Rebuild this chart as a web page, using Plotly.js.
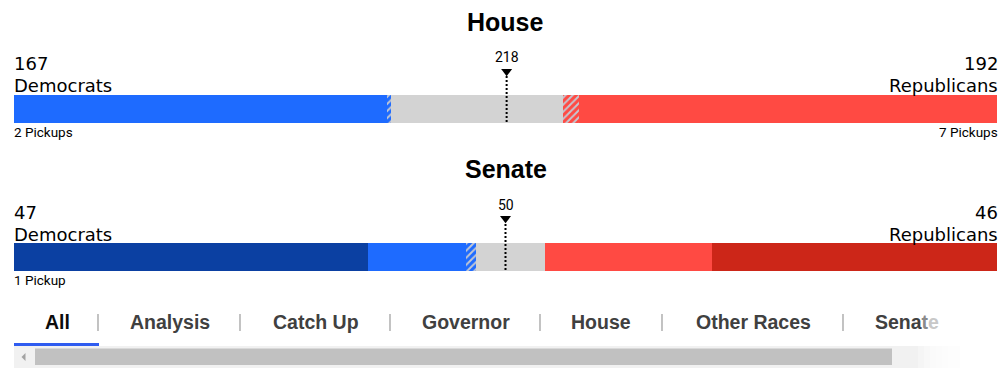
<!DOCTYPE html>
<html>
<head>
<meta charset="utf-8">
<script src="https://cdn.plot.ly/plotly-3.0.1.min.js"></script>
<style>
html,body{margin:0;padding:0;background:#fff;}
#chart{width:1008px;height:370px;}
</style>
</head>
<body>
<div id="chart"></div>
<script>
// ---------- data ----------
const houseTotal = 435;
const houseSegments = ['Democrats', 'Democratic pickups', 'Undecided', 'Republican pickups', 'Republicans'];
const houseSeats = [165, 2, 76, 7, 185];
const houseDem = 167;
const houseRep = 192;
const houseMajority = 218;
const houseDemPickups = 2;
const houseRepPickups = 7;

const senateTotal = 100;
const senateSegments = ['Democrats not up', 'Democrats won', 'Democratic pickup', 'Undecided', 'Republicans won', 'Republicans not up'];
const senateSeats = [36, 10, 1, 7, 17, 29];
const senateDem = 47;
const senateRep = 46;
const senateMajority = 50;
const senateDemPickups = 1;

const tabLabels = ['All', 'Analysis', 'Catch Up', 'Governor', 'House', 'Other Races', 'Senate'];

// ---------- styles ----------
const BLUE = '#1e6bff', DKBLUE = '#0b40a2', RED = '#ff4a43', DKRED = '#cc2618', GRAY = '#d3d3d3';
const hatch = (bg) => ({shape: '/', bgcolor: bg, fgcolor: '#c4c8d2', fillmode: 'replace', size: 5, solidity: 0.4});
const houseStyles = [
  {color: BLUE}, {color: BLUE, pattern: hatch(BLUE)}, {color: GRAY},
  {color: RED, pattern: hatch(RED)}, {color: RED}
];
const senateStyles = [
  {color: DKBLUE}, {color: BLUE}, {color: BLUE, pattern: hatch(BLUE)}, {color: GRAY}, {color: RED}, {color: DKRED}
];

const W = 1008, H = 370, ML = 14, MR = 11;
const PW = W - ML - MR;
const px = x => (x - ML) / PW;
const py = y => 1 - y / H;

const traces = [];
houseSeats.forEach((v, i) => {
  traces.push({type: 'bar', orientation: 'h', name: houseSegments[i], x: [v], y: [0], width: [1],
    xaxis: 'x', yaxis: 'y', marker: Object.assign({line: {width: 0}}, houseStyles[i]), hoverinfo: 'skip'});
});
senateSeats.forEach((v, i) => {
  traces.push({type: 'bar', orientation: 'h', name: senateSegments[i], x: [v], y: [0], width: [1],
    xaxis: 'x2', yaxis: 'y2', marker: Object.assign({line: {width: 0}}, senateStyles[i]), hoverinfo: 'skip'});
});
// majority markers
[[houseMajority, 'x', 'y', 1.34, 1.21], [senateMajority, 'x2', 'y2', 1.375, 1.25]].forEach(([m, xa, ya, ty, ly]) => {
  traces.push({type: 'scatter', mode: 'lines', x: [m, m], y: [-0.46, ly], xaxis: xa, yaxis: ya,
    line: {color: '#000', width: 2, dash: '2px,2px'}, cliponaxis: false, hoverinfo: 'skip'});
  traces.push({type: 'scatter', mode: 'markers', x: [m], y: [ty], xaxis: xa, yaxis: ya,
    marker: {symbol: 'triangle-down', size: 9.5, color: '#000', line: {width: 0}}, cliponaxis: false, hoverinfo: 'skip'});
});

const FONT = 'Liberation Sans, Arial, sans-serif';
const PARTY = {family: 'DejaVu Sans, sans-serif', size: 18, color: '#000'};
const ann = [];
function txt(text, x, y, opts) {
  ann.push(Object.assign({text: text, x: x, y: y, xref: 'paper', yref: 'paper', showarrow: false,
    xanchor: 'left', yanchor: 'middle', borderpad: 0,
    font: PARTY}, opts || {}));
}
const SMALL = {family: 'Roboto, sans-serif', size: 13.5, color: '#000'};
// House block
txt('House', px(506), py(22), {xanchor: 'center', font: {family: FONT, size: 25, color: '#000', weight: 'bold'}});
txt(String(houseDem), px(12.5), py(63.5));
txt('Democrats', px(12.5), py(85.2));
txt(String(houseRep), px(998.5), py(63.5), {xanchor: 'right'});
txt('Republicans', px(998.5), py(85.2), {xanchor: 'right'});
txt(houseDemPickups + ' Pickups', px(12.5), py(131.5), {font: SMALL});
txt(houseRepPickups + ' Pickups', px(998.5), py(131.5), {xanchor: 'right', font: SMALL});
ann.push({text: String(houseMajority), x: houseMajority, xref: 'x', y: py(57), yref: 'paper', showarrow: false,
  xanchor: 'center', yanchor: 'middle', font: {family: 'Roboto, sans-serif', size: 14, color: '#000'}});
// Senate block
txt('Senate', px(506), py(169), {xanchor: 'center', font: {family: FONT, size: 25, color: '#000', weight: 'bold'}});
txt(String(senateDem), px(12.5), py(212.5));
txt('Democrats', px(12.5), py(234));
txt(String(senateRep), px(998.5), py(212.5), {xanchor: 'right'});
txt('Republicans', px(998.5), py(234), {xanchor: 'right'});
txt(senateDemPickups + ' Pickup', px(12.5), py(279.5), {font: SMALL});
ann.push({text: String(senateMajority), x: senateMajority, xref: 'x2', y: py(205), yref: 'paper', showarrow: false,
  xanchor: 'center', yanchor: 'middle', font: {family: 'Roboto, sans-serif', size: 14, color: '#000'}});

// Tabs
const tabCenters = [57, 170, 316, 466, 601, 753, 907];
tabLabels.forEach((t, i) => {
  let label = t;
  if (i === tabLabels.length - 1) label = 'Sena<span style="color:#8a8a8a">t</span><span style="color:#c8c8c8">e</span>';
  txt(label, px(tabCenters[i]), py(322), {xanchor: 'center',
    font: {family: FONT, size: 19.5, color: i === 0 ? '#0c0c0c' : '#404040', weight: 'bold'}});
});

const shapes = [];
[98, 240, 390, 540, 662, 843].forEach(x => {
  shapes.push({type: 'line', xref: 'paper', yref: 'paper', x0: px(x), x1: px(x), y0: py(314), y1: py(331),
    line: {color: '#9a9a9a', width: 1.2}});
});
// underline
shapes.push({type: 'rect', xref: 'paper', yref: 'paper', x0: px(14), x1: px(99), y0: py(346), y1: py(343),
  fillcolor: '#2f5cf0', line: {width: 0}});
// scrollbar track
shapes.push({type: 'rect', xref: 'paper', yref: 'paper', x0: px(14), x1: px(960), y0: py(368), y1: py(346),
  fillcolor: '#f1f1f1', line: {width: 0}});
// thumb
shapes.push({type: 'rect', xref: 'paper', yref: 'paper', x0: px(35), x1: px(892), y0: py(365), y1: py(348.5),
  fillcolor: '#c1c1c1', line: {width: 0}});
// arrow
shapes.push({type: 'path', xref: 'paper', yref: 'paper',
  path: 'M ' + px(21.5) + ' ' + py(357) + ' L ' + px(25.5) + ' ' + py(353) + ' L ' + px(25.5) + ' ' + py(361) + ' Z',
  fillcolor: '#a3a3a3', line: {width: 0}});
// fade on right
for (let k = 0; k < 7; k++) {
  shapes.push({type: 'rect', xref: 'paper', yref: 'paper', x0: px(918 + k * 6), x1: px(1008), y0: py(369), y1: py(345),
    fillcolor: '#ffffff', opacity: 0.3, line: {width: 0}});
}

const layout = {
  width: W, height: H,
  margin: {l: ML, r: MR, t: 0, b: 0, pad: 0},
  paper_bgcolor: '#fff', plot_bgcolor: 'rgba(0,0,0,0)',
  showlegend: false, barmode: 'stack', bargap: 0,
  xaxis: {domain: [0, 1], range: [0, houseTotal], visible: false, fixedrange: true},
  yaxis: {domain: [py(123), py(67)], range: [-0.5, 1.5], visible: false, fixedrange: true},
  xaxis2: {domain: [0, 1], range: [0, senateTotal], visible: false, fixedrange: true, anchor: 'y2'},
  yaxis2: {domain: [py(271), py(215)], range: [-0.5, 1.5], visible: false, fixedrange: true, anchor: 'x2'},
  annotations: ann,
  shapes: shapes
};

Plotly.newPlot('chart', traces, layout, {displayModeBar: false, staticPlot: true});
</script>
</body>
</html>
